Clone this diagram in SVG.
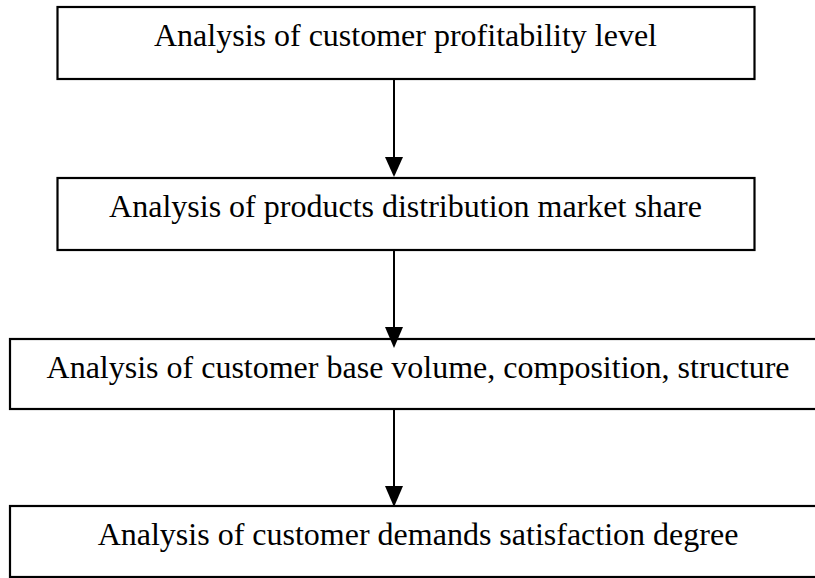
<svg xmlns="http://www.w3.org/2000/svg" width="815" height="578" viewBox="0 0 815 578">
<style>
.box{fill:#fff;stroke:#000;stroke-width:2.2}
.lbl{font-family:"Liberation Serif","Times New Roman",serif;font-size:32px;fill:#000;text-anchor:middle}
.conn{stroke:#000;stroke-width:2;fill:none}
.head{fill:#000;stroke:none}
</style>
<rect width="815" height="578" fill="#fff"/>
<g id="node1">
<rect class="box" x="57.5" y="7" width="697" height="72"/>
<text class="lbl" x="405.5" y="46">Analysis of customer profitability level</text>
</g>
<g id="node2">
<rect class="box" x="57.5" y="178" width="697" height="72"/>
<text class="lbl" x="405.5" y="217">Analysis of products distribution market share</text>
</g>
<g id="node3">
<rect class="box" x="10" y="339" width="830" height="70"/>
<text class="lbl" x="418" y="378">Analysis of customer base volume, composition, structure</text>
</g>
<g id="node4">
<rect class="box" x="10" y="506" width="830" height="71"/>
<text class="lbl" x="418" y="545">Analysis of customer demands satisfaction degree</text>
</g>
<g id="connectors">
<line class="conn" x1="394" y1="79" x2="394" y2="160"/>
<polygon class="head" points="385,157 403,157 394,177"/>
<line class="conn" x1="394" y1="250" x2="394" y2="330"/>
<polygon class="head" points="385,327 403,327 394,348"/>
<line class="conn" x1="394" y1="409" x2="394" y2="488"/>
<polygon class="head" points="385,486 403,486 394,507"/>
</g>
</svg>
